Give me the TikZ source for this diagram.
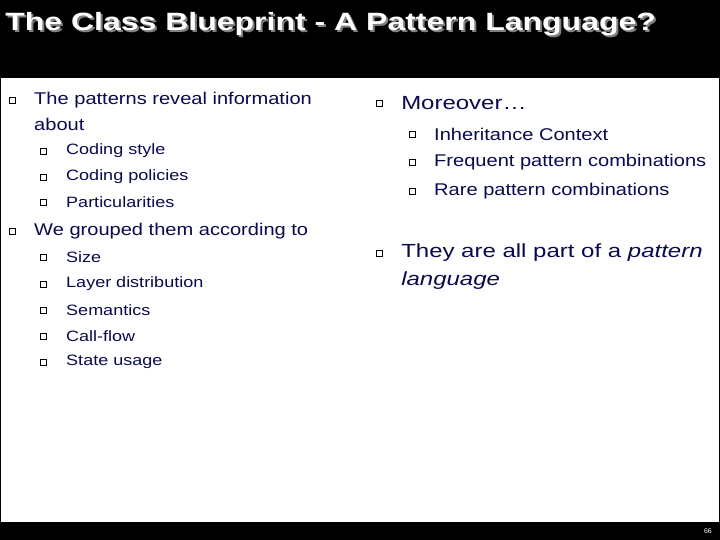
\documentclass[tikz,border=0pt]{standalone}
\usepackage{fontspec}
\setmainfont{Liberation Sans}
\definecolor{navy}{RGB}{10,10,80}
\begin{document}
\begin{tikzpicture}[x=1pt,y=-1pt,
  t/.style={anchor=west,inner sep=0pt,text=navy,font=\fontsize{17}{20}\selectfont,xscale=1.18,transform shape},
  tb/.style={t,font=\fontsize{19}{22}\selectfont,xscale=1.07},
  s/.style={anchor=west,inner sep=0pt,text=navy,font=\fontsize{15}{18}\selectfont,xscale=1.2,transform shape},
  bx/.style={draw=black,line width=0.8pt,fill=white,minimum size=6pt,inner sep=0pt}]
\useasboundingbox (0,0) rectangle (720,540);
\fill[white] (0,0) rectangle (720,540);
\fill[black] (0,0) rectangle (720,78);
\fill[black] (0,522) rectangle (720,540);
\draw[black,line width=1pt] (0.5,78) -- (0.5,522) (719.5,78) -- (719.5,522);
\node[anchor=west,inner sep=0pt,text=gray,font=\bfseries\fontsize{25}{28}\selectfont,xscale=1.28,transform shape] (ts) at (7,26) {The Class Blueprint - A Pattern Language?};
\node[anchor=west,inner sep=0pt,text=white,font=\bfseries\fontsize{25}{28}\selectfont,xscale=1.28,transform shape] (title) at (5,24) {The Class Blueprint - A Pattern Language?};
\node[anchor=east,inner sep=0pt,text=white,font=\fontsize{7}{8}\selectfont] (pg) at (712,531) {66};
% left
\node[bx] (b1) at (12,100) {};
\node[t] (l1) at (34,100) {The patterns reveal information};
\node[t] (l1b) at (34,124) {about};
\node[bx] (b11) at (43,151) {}; \node[s] (s11) at (66,151) {Coding style};
\node[bx] (b12) at (43,177) {}; \node[s] (s12) at (66,177) {Coding policies};
\node[bx] (b13) at (43,202) {}; \node[s] (s13) at (66,202) {Particularities};
\node[bx] (b2) at (12,231) {};
\node[t] (l2) at (34,231) {We grouped them according to};
\node[bx] (b21) at (43,257) {}; \node[s] (s21) at (66,257) {Size};
\node[bx] (b22) at (43,284) {}; \node[s] (s22) at (66,284) {Layer distribution};
\node[bx] (b23) at (43,310) {}; \node[s] (s23) at (66,310) {Semantics};
\node[bx] (b24) at (43,336) {}; \node[s] (s24) at (66,336) {Call-flow};
\node[bx] (b25) at (43,362) {}; \node[s] (s25) at (66,362) {State usage};
% right
\node[bx] (b3) at (379,103) {};
\node[tb] (r1) at (401,103) {Moreover…};
\node[bx] (b31) at (412,134) {}; \node[t] (r11) at (434,134) {Inheritance Context};
\node[bx] (b32) at (412,162) {}; \node[t] (r12) at (434,162) {Frequent pattern combinations};
\node[bx] (b33) at (412,191) {}; \node[t] (r13) at (434,191) {Rare pattern combinations};
\node[bx] (b4) at (379,253) {};
\node[tb] (r2) at (401,253) {They are all part of a \textit{pattern}};
\node[tb] (r2b) at (401,281) {\textit{language}};
\end{tikzpicture}
\end{document}
